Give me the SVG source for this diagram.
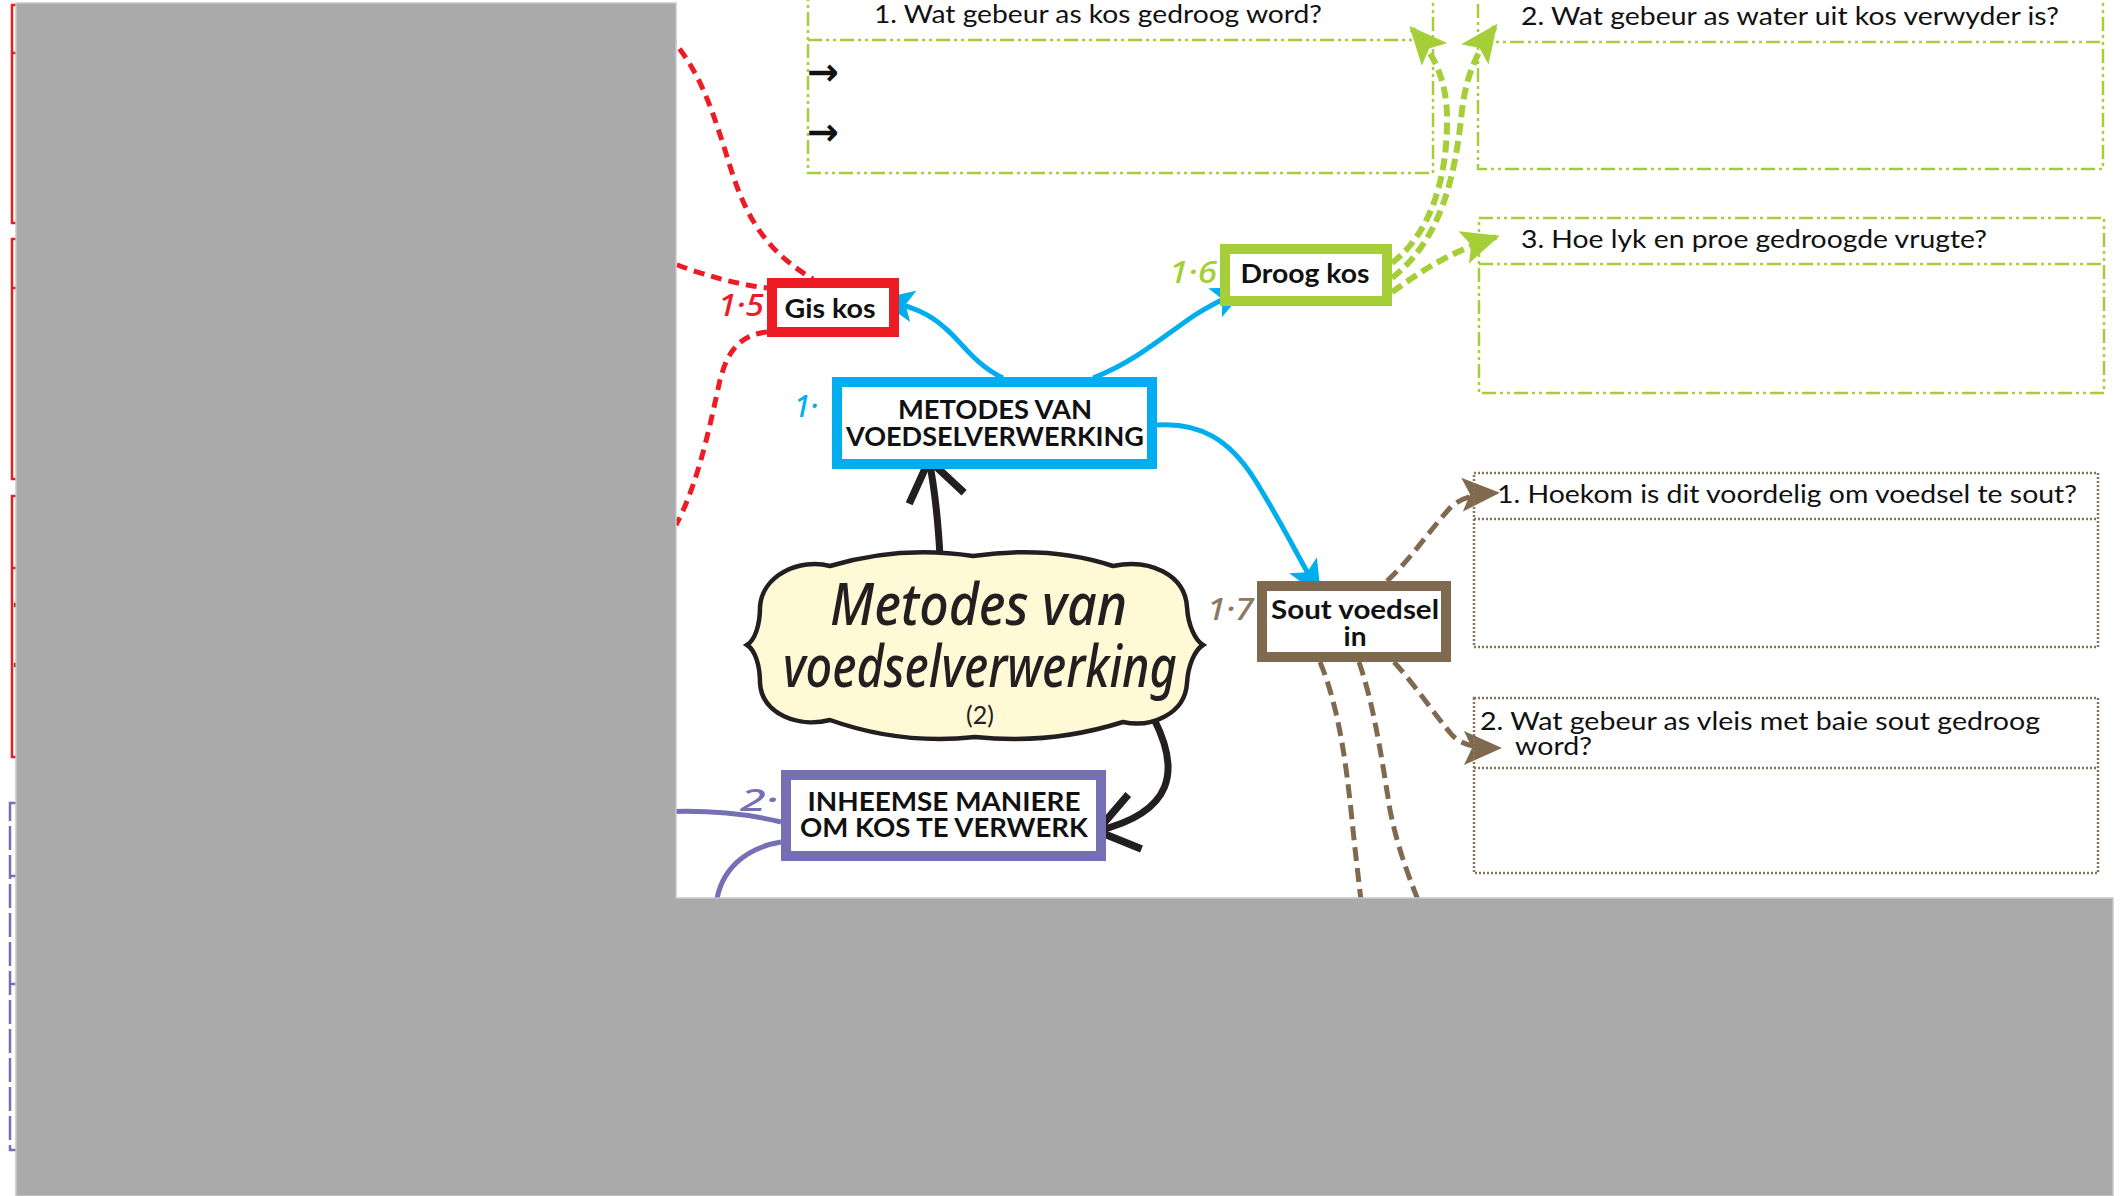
<svg xmlns="http://www.w3.org/2000/svg" width="2125" height="1196" viewBox="0 0 2125 1196">
<style>
.qg{fill:none;stroke:#A6CE39;stroke-width:2.5;stroke-dasharray:14 4 3 4 3 4}
.qb{fill:none;stroke:#8B7355;stroke-width:2.5;stroke-dasharray:2 2}
.q{font-family:Lato,"Open Sans",sans-serif;font-size:25px;fill:#111}
.nt{font-family:Lato,"Open Sans",sans-serif;font-weight:700;font-size:26px;fill:#111;text-anchor:middle}
.lbl{font-family:"Noto Sans",sans-serif;font-style:italic;font-weight:500;font-size:31px}
.node{fill:#fff;stroke-width:10}
.arr{font-family:"DejaVu Sans",sans-serif;font-size:38px;font-weight:700;fill:#111}
.red-d{fill:none;stroke:#ED1C24;stroke-width:5;stroke-dasharray:11 7}
.grn-d{fill:none;stroke:#A6CE39;stroke-width:6;stroke-dasharray:12 6}
.brn-d{fill:none;stroke:#7F6A50;stroke-width:5;stroke-dasharray:14 7}
.blue{fill:none;stroke:#00AEEF;stroke-width:5}
.blk{fill:none;stroke:#231F20;stroke-width:7}
.pur{fill:none;stroke:#7570B3;stroke-width:5}
.cloudtxt{font-family:"Noto Sans",sans-serif;font-style:italic;font-weight:500;font-size:58px;fill:#231F20}
</style>
<defs>
<marker id="mBlue" markerUnits="userSpaceOnUse" viewBox="0 0 36 32" markerWidth="36" markerHeight="32" refX="32" refY="16" orient="auto"><path d="M0,0 L36,16 L0,32 L8,16 Z" fill="#00AEEF"/></marker>
<marker id="mGreen" markerUnits="userSpaceOnUse" viewBox="0 0 38 34" markerWidth="38" markerHeight="34" refX="34" refY="17" orient="auto"><path d="M0,0 L38,17 L0,34 L8,17 Z" fill="#A6CE39"/></marker>
<marker id="mBrown" markerUnits="userSpaceOnUse" viewBox="0 0 38 34" markerWidth="38" markerHeight="34" refX="34" refY="17" orient="auto"><path d="M0,0 L38,17 L0,34 L8,17 Z" fill="#7F6A50"/></marker>
<marker id="mBlack" markerUnits="userSpaceOnUse" viewBox="0 0 54 64" markerWidth="54" markerHeight="64" refX="47" refY="32" orient="auto"><path d="M8,4 L47,32 L8,60" fill="none" stroke="#231F20" stroke-width="7.5"/></marker>
</defs>
<rect width="2125" height="1196" fill="#fff"/>

<g id="connectors">
<path class="red-d" d="M668 35 C700 70 712 110 725 150 C740 200 755 245 813 279"/>
<path class="red-d" d="M660 258 C700 275 740 285 767 288"/>
<path class="red-d" d="M767 332 C740 335 728 350 720 380 C712 415 700 480 676 525"/>
<path class="blue" marker-end="url(#mBlue)" d="M1003 378 C975 365 960 340 945 328 C930 314 912 306 882 300"/>
<path class="blue" marker-end="url(#mBlue)" d="M1093 378 C1135 362 1165 335 1195 315 C1210 305 1225 298 1244 289"/>
<path class="blue" marker-end="url(#mBlue)" d="M1157 425 C1200 422 1230 440 1255 480 C1280 520 1300 560 1319 593"/>
<path class="grn-d" marker-end="url(#mGreen)" d="M1392 263 C1432 232 1448 175 1447 115 C1446 80 1435 55 1412 29"/>
<path class="grn-d" marker-end="url(#mGreen)" d="M1392 278 C1440 240 1455 180 1462 110 C1466 75 1478 50 1495 27"/>
<path class="grn-d" marker-end="url(#mGreen)" d="M1392 292 C1410 280 1440 255 1496 237"/>
<path class="brn-d" marker-end="url(#mBrown)" d="M1387 581 C1410 560 1430 530 1450 508 C1460 498 1475 494 1496 493"/>
<path class="brn-d" marker-end="url(#mBrown)" d="M1394 662 C1415 685 1435 715 1452 735 C1462 745 1475 748 1498 748"/>
<path class="brn-d" d="M1320 662 C1338 705 1346 760 1352 820 C1356 860 1360 890 1362 910"/>
<path class="brn-d" d="M1359 662 C1374 705 1382 760 1390 810 C1398 850 1410 880 1422 910"/>
<path class="blk" marker-end="url(#mBlack)" d="M940 556 C938 520 935 490 929 460"/>
<path class="blk" marker-end="url(#mBlack)" d="M1154 719 C1180 770 1175 812 1097 831"/>
<path class="pur" d="M660 812 C700 810 740 812 781 822"/>
<path class="pur" d="M781 842 C745 848 720 870 716 905"/>
</g>

<g id="left-red-boxes">
<path d="M16 5 H12 V223 H16 M12 53 H16" fill="none" stroke="#ED1C24" stroke-width="2.5"/>
<path d="M16 239 H12 V479 H16 M12 288 H16" fill="none" stroke="#ED1C24" stroke-width="2.5"/>
<path d="M16 496 H12 V757 H16 M12 568 H16" fill="none" stroke="#ED1C24" stroke-width="2.5"/>
<text class="arr" x="12" y="617">→</text>
<text class="arr" x="12" y="677">→</text>
</g>
<g id="left-purple-boxes">
<path d="M16 803 H10 V1150 H16 M10 876 H16 M10 984 H16" fill="none" stroke="#7570B3" stroke-width="2.5" stroke-dasharray="24 5"/>
</g>

<g id="q-dry-1">
<rect class="qg" x="808" y="-30" width="625" height="203"/>
<line class="qg" x1="808" y1="40" x2="1433" y2="40"/>
<text class="q" x="874" y="23" textLength="448" lengthAdjust="spacingAndGlyphs">1. Wat gebeur as kos gedroog word?</text>
<text class="arr" x="807" y="85">→</text>
<text class="arr" x="807" y="145">→</text>
</g>
<g id="q-dry-2">
<rect class="qg" x="1478" y="-30" width="625" height="199"/>
<line class="qg" x1="1478" y1="42" x2="2103" y2="42"/>
<text class="q" x="1521" y="25" textLength="538" lengthAdjust="spacingAndGlyphs">2. Wat gebeur as water uit kos verwyder is?</text>
</g>
<g id="q-dry-3">
<rect class="qg" x="1479" y="218" width="625" height="175"/>
<line class="qg" x1="1479" y1="264" x2="2104" y2="264"/>
<text class="q" x="1521" y="248" textLength="466" lengthAdjust="spacingAndGlyphs">3. Hoe lyk en proe gedroogde vrugte?</text>
</g>
<g id="q-salt-1">
<rect class="qb" x="1474" y="473" width="624" height="174"/>
<line class="qb" x1="1474" y1="519" x2="2098" y2="519"/>
<text class="q" x="1497" y="503" textLength="580" lengthAdjust="spacingAndGlyphs">1. Hoekom is dit voordelig om voedsel te sout?</text>
</g>
<g id="q-salt-2">
<rect class="qb" x="1474" y="698" width="624" height="175"/>
<line class="qb" x1="1474" y1="768" x2="2098" y2="768"/>
<text class="q" x="1480" y="730" textLength="560" lengthAdjust="spacingAndGlyphs">2. Wat gebeur as vleis met baie sout gedroog</text>
<text class="q" x="1515" y="755" textLength="77" lengthAdjust="spacingAndGlyphs">word?</text>
</g>

<g id="node-gis">
<rect class="node" stroke="#ED1C24" x="772" y="283" width="122" height="49"/>
<text class="nt" x="830" y="318" textLength="91" lengthAdjust="spacingAndGlyphs">Gis kos</text>
<text class="lbl" fill="#ED1C24" x="718" y="316" textLength="46" lengthAdjust="spacingAndGlyphs">1·5</text>
</g>
<g id="node-droog">
<rect class="node" stroke="#A6CE39" x="1225" y="249" width="162" height="52"/>
<text class="nt" x="1305" y="283" textLength="129" lengthAdjust="spacingAndGlyphs">Droog kos</text>
<text class="lbl" fill="#A6CE39" x="1169" y="283" textLength="48" lengthAdjust="spacingAndGlyphs">1·6</text>
</g>
<g id="node-metodes">
<rect class="node" stroke="#00AEEF" x="837" y="382" width="315" height="82"/>
<text class="nt" x="995" y="419" textLength="194" lengthAdjust="spacingAndGlyphs">METODES VAN</text>
<text class="nt" x="995" y="446" textLength="298" lengthAdjust="spacingAndGlyphs">VOEDSELVERWERKING</text>
<text class="lbl" fill="#00AEEF" x="794" y="417" textLength="24" lengthAdjust="spacingAndGlyphs">1·</text>
</g>
<g id="node-sout">
<rect class="node" stroke="#7F6A50" x="1262" y="586" width="184" height="71"/>
<text class="nt" x="1355" y="619" textLength="168" lengthAdjust="spacingAndGlyphs">Sout voedsel</text>
<text class="nt" x="1355" y="646" textLength="23" lengthAdjust="spacingAndGlyphs">in</text>
<text class="lbl" fill="#8A7A62" x="1207" y="620" textLength="47" lengthAdjust="spacingAndGlyphs">1·7</text>
</g>
<g id="node-inheemse">
<rect class="node" stroke="#7570B3" x="786" y="775" width="315" height="81"/>
<text class="nt" x="944" y="811" textLength="273" lengthAdjust="spacingAndGlyphs">INHEEMSE MANIERE</text>
<text class="nt" x="944" y="837" textLength="288" lengthAdjust="spacingAndGlyphs">OM KOS TE VERWERK</text>
<text class="lbl" fill="#7570B3" x="740" y="811" textLength="38" lengthAdjust="spacingAndGlyphs">2·</text>
</g>
<g id="node-cloud">
<path d="M830 566 Q900 545 973 556 Q1050 545 1113 566 C1150 558 1185 575 1187 607 C1188 625 1195 640 1203 645 C1195 650 1188 665 1187 683 C1185 715 1150 728 1123 722 Q1050 745 975 737 Q900 745 830 720 C800 728 762 715 760 683 C760 665 755 650 747 645 C755 640 760 625 760 607 C762 575 800 558 830 566 Z" fill="#FFF9D6" stroke="#231F20" stroke-width="4.5"/>
<text class="cloudtxt" x="830" y="625" textLength="297" lengthAdjust="spacingAndGlyphs">Metodes van</text>
<text class="cloudtxt" x="783" y="687" textLength="394" lengthAdjust="spacingAndGlyphs">voedselverwerking</text>
<text x="980" y="724" font-family="Lato, sans-serif" font-size="25" fill="#231F20" text-anchor="middle">(2)</text>
</g>

<path id="mask" d="M16 3 H676 V898 H2113 V1196 H16 Z" fill="#AAAAAA" stroke="#C8C8C8" stroke-width="1.5"/>
</svg>
